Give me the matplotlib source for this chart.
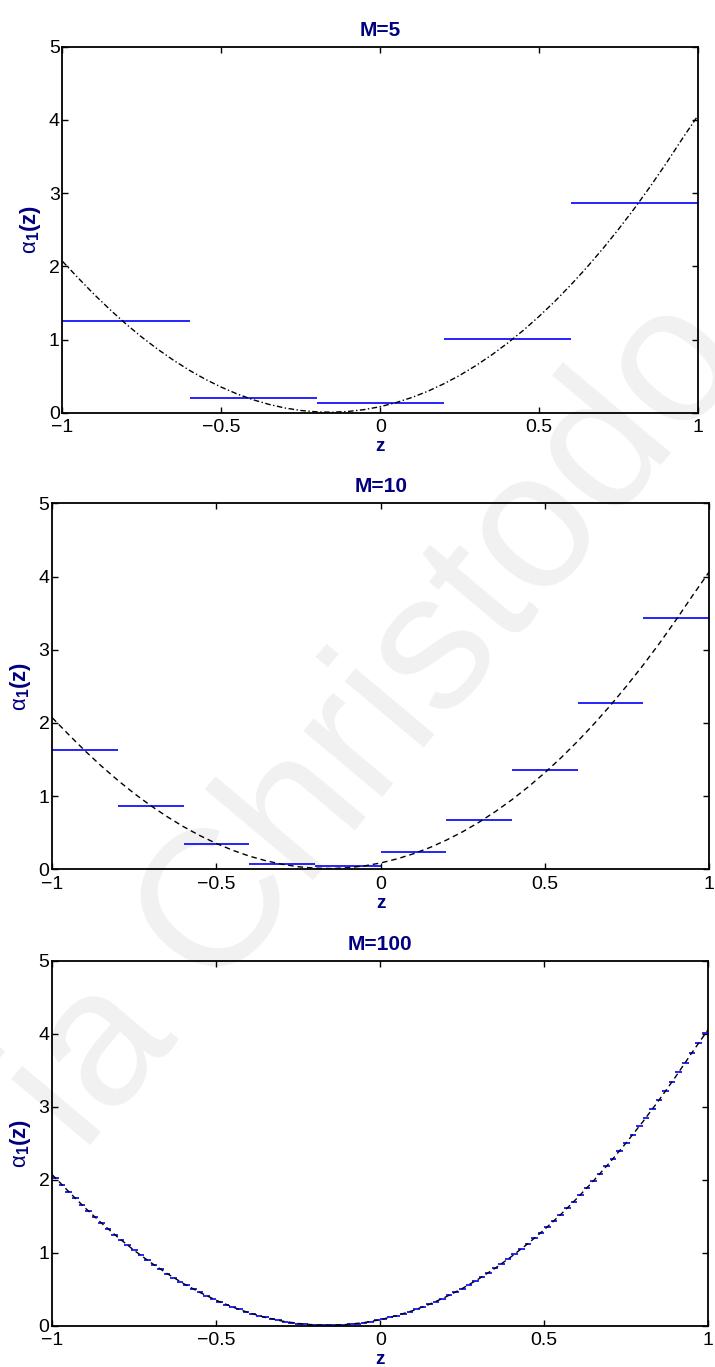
import matplotlib
matplotlib.use("Agg")
import matplotlib.pyplot as plt
import numpy as np

plt.rcParams["font.family"] = ["Liberation Sans", "DejaVu Sans"]
plt.rcParams["mathtext.fontset"] = "custom"
plt.rcParams["mathtext.rm"] = "Liberation Sans"
plt.rcParams["mathtext.bf"] = "Liberation Sans:bold"
plt.rcParams["mathtext.it"] = "Liberation Sans:italic"

# exact coefficient alpha_1(z) on a grid over [-1, 1]
z_curve = [-1.00, -0.95, -0.90, -0.85, -0.80, -0.75, -0.70, -0.65, -0.60, -0.55,
           -0.50, -0.45, -0.40, -0.35, -0.30, -0.25, -0.20, -0.15, -0.10, -0.05,
           0.00, 0.05, 0.10, 0.15, 0.20, 0.25, 0.30, 0.35, 0.40, 0.45,
           0.50, 0.55, 0.60, 0.65, 0.70, 0.75, 0.80, 0.85, 0.90, 0.95, 1.00]
alpha_curve = [2.070, 1.840, 1.617, 1.409, 1.214, 1.034, 0.869, 0.718, 0.581, 0.459,
               0.352, 0.259, 0.180, 0.117, 0.068, 0.034, 0.015, 0.010, 0.021, 0.046,
               0.086, 0.142, 0.212, 0.297, 0.398, 0.513, 0.644, 0.790, 0.951, 1.127,
               1.319, 1.526, 1.749, 1.987, 2.240, 2.509, 2.793, 3.093, 3.409, 3.740, 4.060]

# piecewise-constant approximations on M equal cells
steps_m5 = [1.26, 0.21, 0.13, 1.01, 2.86]
steps_m10 = [1.63, 0.87, 0.35, 0.07, 0.04, 0.23, 0.67, 1.35, 2.27, 3.43]
steps_m100 = [
    2.029, 1.933, 1.840, 1.749, 1.661, 1.574, 1.490, 1.409, 1.329, 1.252,
    1.177, 1.105, 1.034, 0.966, 0.901, 0.837, 0.776, 0.718, 0.661, 0.607,
    0.556, 0.506, 0.459, 0.414, 0.372, 0.332, 0.294, 0.259, 0.226, 0.195,
    0.167, 0.141, 0.117, 0.096, 0.077, 0.060, 0.046, 0.034, 0.025, 0.017,
    0.013, 0.010, 0.010, 0.013, 0.017, 0.025, 0.034, 0.046, 0.060, 0.077,
    0.096, 0.118, 0.142, 0.168, 0.197, 0.228, 0.261, 0.297, 0.335, 0.376,
    0.419, 0.465, 0.513, 0.564, 0.616, 0.672, 0.729, 0.790, 0.852, 0.917,
    0.985, 1.055, 1.127, 1.202, 1.279, 1.359, 1.441, 1.526, 1.613, 1.703,
    1.795, 1.890, 1.987, 2.086, 2.188, 2.292, 2.399, 2.509, 2.621, 2.735,
    2.852, 2.971, 3.093, 3.218, 3.344, 3.474, 3.606, 3.740, 3.877, 4.016,
]

xticks = [-1, -0.5, 0, 0.5, 1]
xtick_labels = ["\u22121", "\u22120.5", "0", "0.5", "1"]
yticks = [0, 1, 2, 3, 4, 5]

NAVY = "#000080"

fig = plt.figure(figsize=(7.15, 13.67), dpi=100)

panels = [
    ("M=5", steps_m5, [0.0874, 0.6979, 0.8888, 0.2679], (0, (4, 1.8, 1, 1.8))),
    ("M=10", steps_m10, [0.0731, 0.3641, 0.9185, 0.2677], (0, (4, 2.8))),
    ("M=100", steps_m100, [0.0731, 0.0300, 0.9175, 0.2672], (0, (4, 2.8))),
]

for title, steps, rect, dash in panels:
    ax = fig.add_axes(rect)
    M = len(steps)
    edges = np.linspace(-1, 1, M + 1)
    ax.hlines(steps, edges[:-1], edges[1:], colors="#0000ff", lw=1.2, zorder=2)
    ax.plot(z_curve, alpha_curve, color="black", lw=1.0, linestyle=dash, zorder=3)

    ax.set_xlim(-1, 1)
    ax.set_ylim(0, 5)
    ax.set_xticks(xticks)
    ax.set_xticklabels(xtick_labels)
    ax.set_yticks(yticks)
    ax.tick_params(direction="in", length=4.3, width=1.0, labelsize=14,
                   top=True, right=True)
    ax.tick_params(axis="x", pad=4.5)
    ax.tick_params(axis="y", pad=2)
    for s in ax.spines.values():
        s.set_linewidth(1.3)

    ax.set_title(title, fontsize=15, fontweight="bold", color=NAVY, pad=8)
    ax.set_xlabel("z", fontsize=13.5, fontweight="bold", color=NAVY, labelpad=1.5)
    ax.set_ylabel(r"$\mathrm{\alpha}_{\mathbf{1}}\mathbf{(z)}$", fontsize=16,
                  color=NAVY, labelpad=4)

# faint diagonal name stamped across the page
fig.text(377 / 715, 1 - 725 / 1367, "ia Christodo", fontsize=140, color="black",
         alpha=0.06, rotation=50, ha="center", va="center",
         rotation_mode="anchor", zorder=10)

fig.savefig("out.png", dpi=100)
